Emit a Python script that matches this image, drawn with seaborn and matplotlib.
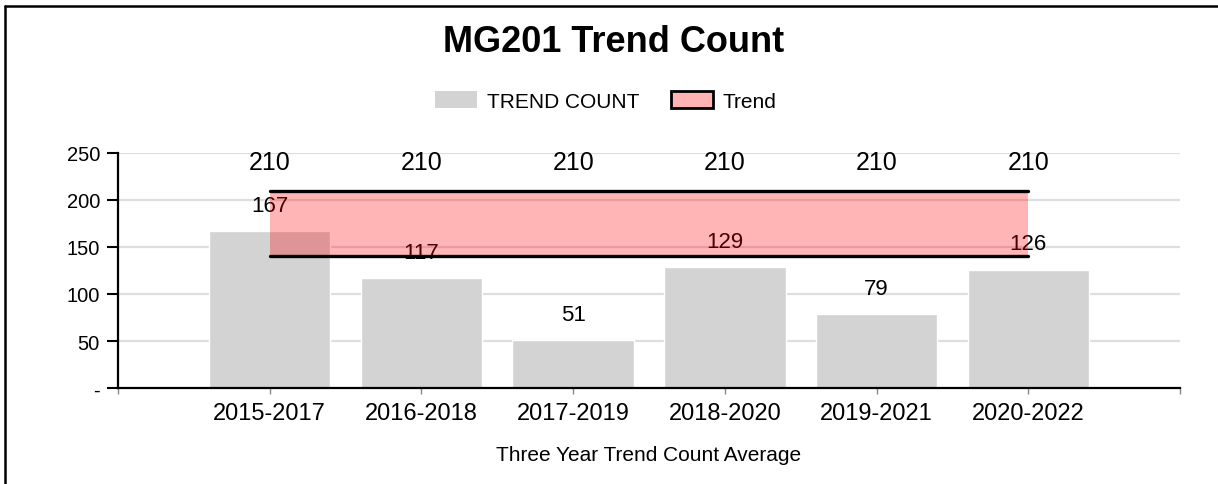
import matplotlib
matplotlib.use("Agg")
import matplotlib.pyplot as plt
from matplotlib.lines import Line2D
from matplotlib.patches import Patch
import seaborn as sns
import numpy as np
import pandas as pd

# data
periods = ["2015-2017", "2016-2018", "2017-2019", "2018-2020", "2019-2021", "2020-2022"]
trend_count = [167, 117, 51, 129, 79, 126]
trend_upper = [210, 210, 210, 210, 210, 210]
trend_lower = [140, 140, 140, 140, 140, 140]
y_ticks = [0, 50, 100, 150, 200, 250]
y_tick_labels = ["-", "50", "100", "150", "200", "250"]

sns.set_style("white")
plt.rcParams["font.family"] = ["Liberation Sans", "DejaVu Sans"]
plt.rcParams["text.color"] = "black"
plt.rcParams["axes.labelcolor"] = "black"
plt.rcParams["xtick.labelcolor"] = "black"
plt.rcParams["ytick.labelcolor"] = "black"

df = pd.DataFrame({"period": periods, "count": trend_count})

fig = plt.figure(figsize=(12.18, 4.85), dpi=100)
ax = fig.add_axes([118 / 1218, 1 - 389 / 485, (1180 - 118) / 1218, (389 - 154) / 485])

# grid behind everything
for v in y_ticks[1:]:
    ax.axhline(v, color="#dedede", linewidth=1.6, zorder=0)

sns.barplot(data=df, x="period", y="count", color="#d3d3d3", saturation=1,
            width=0.8, ax=ax, zorder=1)

pos = np.arange(len(periods))

# bar value labels
for x, v in zip(pos, trend_count):
    ax.annotate(str(v), (x, v), xytext=(0, 18.5), textcoords="offset points",
                ha="center", va="center", fontsize=16, color="black", zorder=2)

# trend band
ax.fill_between(pos, trend_lower, trend_upper, color="#ff0000", alpha=0.29,
                linewidth=0, zorder=3)
ax.plot(pos, trend_upper, color="black", linewidth=2.4, solid_capstyle="round", zorder=4)
ax.plot(pos, trend_lower, color="black", linewidth=2.4, solid_capstyle="round", zorder=4)
for x, v in zip(pos, trend_upper):
    ax.annotate(str(v), (x, v), xytext=(0, 20.5), textcoords="offset points",
                ha="center", va="center", fontsize=18, color="black", zorder=5)

ax.set_xlim(-1, len(periods))
ax.set_ylim(0, 250)
ax.set_yticks(y_ticks)
ax.set_yticklabels(y_tick_labels, fontsize=14.5, color="black")
ax.set_xticks(pos)
ax.set_xticklabels(periods, fontsize=17, color="black")
ax.set_xticks([-1, len(periods)], minor=True)

ax.tick_params(axis="y", which="major", length=8, width=1.5, color="black",
               pad=5, left=True)
ax.tick_params(axis="x", which="both", length=4, width=1, color="#888888",
               pad=6, bottom=True)

for side in ["top", "right"]:
    ax.spines[side].set_visible(False)
for side in ["left", "bottom"]:
    ax.spines[side].set_color("black")
    ax.spines[side].set_linewidth(1.6)

ax.set_ylabel("")
ax.set_xlabel("Three Year Trend Count Average", fontsize=15, color="black")
ax.xaxis.set_label_coords(0.5, -(446 - 389) / 235)

fig.text(614 / 1218, 1 - 42 / 485, "MG201 Trend Count", ha="center", va="center",
         fontsize=26, fontweight="bold", color="black")

handles = [
    Patch(facecolor="#d3d3d3", edgecolor="none", label="TREND COUNT"),
    Patch(facecolor="#ffb3b3", edgecolor="black", linewidth=2, label="Trend"),
]
fig.legend(handles=handles, loc="center", bbox_to_anchor=(606 / 1218, 1 - 102 / 485),
           ncol=2, frameon=False, fontsize=15, handlelength=2.0, handleheight=0.85,
           handletextpad=0.5, columnspacing=1.5, labelcolor="black")

# outer frame (top and left edges visible in the reference)
fig.add_artist(Line2D([5 / 1218, 5 / 1218], [0, 1 - 7 / 485], color="black", linewidth=1.8))
fig.add_artist(Line2D([5 / 1218, 1], [1 - 7 / 485, 1 - 7 / 485], color="black", linewidth=1.8))

plt.savefig("out.png", dpi=100)
plt.close()
